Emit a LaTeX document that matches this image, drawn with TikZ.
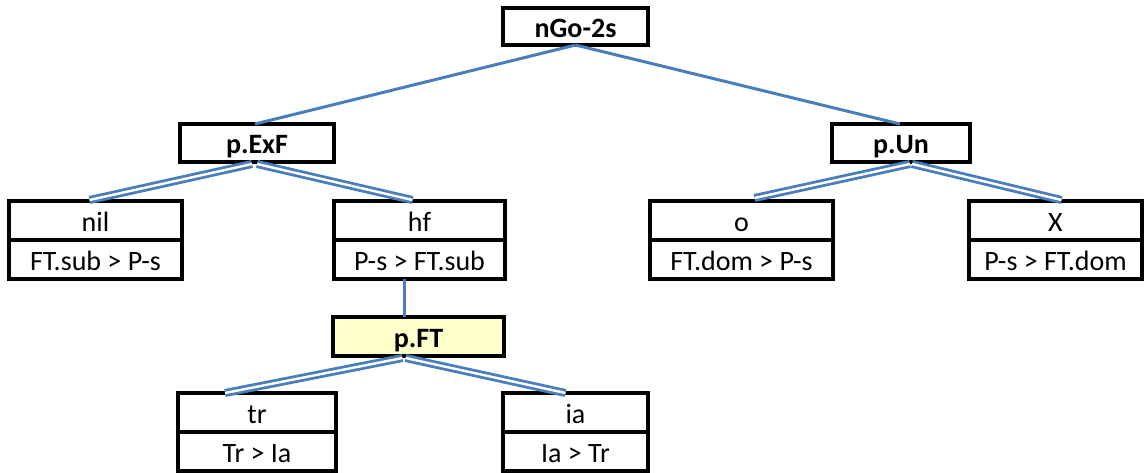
\documentclass[tikz,border=0pt]{standalone}
\usepackage{fontspec}
\setmainfont{Carlito}
\usetikzlibrary{calc}
\definecolor{linkblue}{RGB}{74,126,187}
\definecolor{paleyellow}{RGB}{255,255,204}
\begin{document}
\begin{tikzpicture}[x=1pt,y=-1pt,
  box/.style={draw=black,line width=3.2pt,fill=white,inner sep=0pt,outer sep=0pt,
    font=\fontsize{28}{32}\selectfont,text height=25pt,text depth=4pt},
  cat/.style={box,font=\fontsize{28}{32}\selectfont\bfseries},
  single/.style={draw=linkblue,line width=3pt},
  twin/.style={draw=linkblue,line width=2.8pt,double=white,double distance=2.4pt}]
\useasboundingbox[fill=white] (0,0) rectangle (1144,472);
% nodes
\node[cat,minimum width=145pt,minimum height=37pt] (root) at (575.5,26.5) {nGo-2s};
\node[cat,minimum width=154pt,minimum height=38pt] (pexf) at (257,143) {p.ExF};
\node[cat,minimum width=138pt,minimum height=38pt] (pun) at (901,143) {p.Un};
\node[cat,fill=paleyellow,minimum width=171pt,minimum height=39pt] (pft) at (418.5,336.5) {p.FT};
% leaves
\node[box,minimum width=173pt,minimum height=39pt] (nil) at (95.5,220.5) {nil};
\node[box,minimum width=173pt,minimum height=39pt] (nilb) at (95.5,259.5) {FT.sub > P-s};
\node[box,minimum width=171pt,minimum height=39pt] (hf) at (419.5,220.5) {hf};
\node[box,minimum width=171pt,minimum height=39pt] (hfb) at (419.5,259.5) {P-s > FT.sub};
\node[box,minimum width=183pt,minimum height=39pt] (o) at (741.5,220.5) {o};
\node[box,minimum width=183pt,minimum height=39pt] (ob) at (741.5,259.5) {FT.dom > P-s};
\node[box,minimum width=173pt,minimum height=39pt] (x) at (1055.5,220.5) {X};
\node[box,minimum width=173pt,minimum height=39pt] (xb) at (1055.5,259.5) {P-s > FT.dom};
\node[box,minimum width=158pt,minimum height=39pt] (tr) at (257,412.5) {tr};
\node[box,minimum width=158pt,minimum height=39pt] (trb) at (257,451.5) {Tr > Ia};
\node[box,minimum width=145pt,minimum height=39pt] (ia) at (575.5,412.5) {ia};
\node[box,minimum width=145pt,minimum height=39pt] (iab) at (575.5,451.5) {Ia > Tr};
% connectors
\draw[single] (root.south) -- ($(pexf.north)+(-2,0)$);
\draw[single] (root.south) -- ($(pun.north)+(-1,0)$);
\draw[twin] ($(pexf.south)+(-5,2)$) -- ($(nil.north)+(-6,-1)$);
\draw[twin] ($(pexf.south)+(0,2)$) -- ($(hf.north)+(-7,-1)$);
\draw[twin] ($(pun.south)+(9,2)$) -- ($(o.north)+(13,-3)$);
\draw[twin] ($(pun.south)+(11,2)$) -- ($(x.north)+(6,-1)$);
\draw[single] ($(hfb.south)+(-15.5,0)$) -- ($(pft.north)+(-14.5,0)$);
\draw[twin] ($(pft.south)+(-16,2)$) -- ($(tr.north)+(-32,0)$);
\draw[twin] ($(pft.south)+(-13,2)$) -- ($(ia.north)+(-10,0)$);
\end{tikzpicture}
\end{document}
